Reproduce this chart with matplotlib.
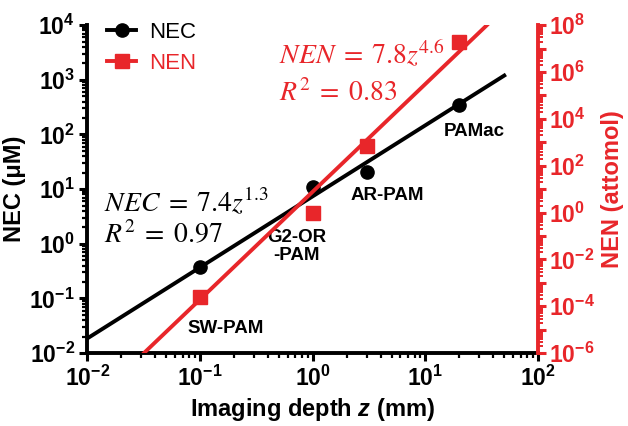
import numpy as np
import matplotlib.pyplot as plt
from matplotlib.ticker import LogLocator, FuncFormatter, NullFormatter

# data
depth = [0.1, 1.0, 3.0, 20.0]
nec = [0.38, 11.0, 21.0, 350.0]
nen = [2.5e-4, 1.0, 700.0, 1.9e7]
names = ['SW-PAM', 'G2-OR\n-PAM', 'AR-PAM', 'PAMac']
label_pos = [(0.17, 0.028), (0.72, 0.9), (4.6, 7.8), (27, 112)]

# power-law fits
nec_a, nec_b = 7.4, 1.3
nen_a, nen_b = 7.8, 4.6

red = '#e8262a'
plt.rcParams['font.family'] = ['Liberation Sans', 'DejaVu Sans']
plt.rcParams['mathtext.fontset'] = 'custom'
plt.rcParams['mathtext.rm'] = 'Liberation Sans:bold'
plt.rcParams['mathtext.bf'] = 'Liberation Sans:bold'
plt.rcParams['mathtext.it'] = 'Liberation Sans:bold:italic'
plt.rcParams['mathtext.default'] = 'rm'

fig = plt.figure(figsize=(6.28, 4.26), dpi=100)
ax = fig.add_axes([0.139, 0.171, 0.718, 0.77])
ax2 = ax.twinx()

z1 = np.logspace(-2, np.log10(50), 50)
ax.plot(z1, nec_a * z1 ** nec_b, color='black', lw=2.8, zorder=3)
ax.plot(depth, nec, 'o', color='black', ms=9.5, zorder=4)

z2 = np.logspace(np.log10((1e-6 / nen_a) ** (1 / nen_b)),
                 np.log10((1e8 / nen_a) ** (1 / nen_b)), 50)
ax2.plot(z2, nen_a * z2 ** nen_b, color=red, lw=2.8, zorder=3)
ax2.plot(depth, nen, 's', color=red, ms=9.5, zorder=4)

for ax_ in (ax, ax2):
    ax_.set_xscale('log')
    ax_.set_yscale('log')
ax.set_xlim(1e-2, 1e2)
ax.set_ylim(1e-2, 1e4)
ax2.set_ylim(1e-6, 1e8)


def pow_fmt(v, pos):
    e = int(round(np.log10(v)))
    return r'$10^{%s}$' % ('-%d' % -e if e < 0 else '%d' % e)


def pow_fmt_even(v, pos):
    e = int(round(np.log10(v)))
    if e % 2:
        return ''
    return pow_fmt(v, pos)


for a in (ax, ax2):
    a.xaxis.set_major_locator(LogLocator(base=10, numticks=20))
    a.xaxis.set_minor_locator(LogLocator(base=10, subs=range(2, 10), numticks=100))
    a.yaxis.set_major_locator(LogLocator(base=10, numticks=20))
    a.yaxis.set_minor_locator(LogLocator(base=10, subs=range(2, 10), numticks=100))
    a.yaxis.set_minor_formatter(NullFormatter())

ax.xaxis.set_major_formatter(FuncFormatter(pow_fmt))
ax.yaxis.set_major_formatter(FuncFormatter(pow_fmt))
ax2.yaxis.set_major_formatter(FuncFormatter(pow_fmt_even))

ax.spines['top'].set_visible(False)
ax.spines['right'].set_visible(False)
ax2.spines['top'].set_visible(False)
ax2.spines['left'].set_visible(False)
ax2.spines['bottom'].set_visible(False)
for s in ('left', 'bottom'):
    ax.spines[s].set_linewidth(2.8)
ax2.spines['right'].set_linewidth(2.8)
ax2.spines['right'].set_color(red)

ax.tick_params(which='major', length=6, width=2.2, direction='out', labelsize=16.5, pad=3)
ax.tick_params(which='minor', length=3.5, width=1.6, direction='out')
ax2.tick_params(axis='y', which='major', length=6, width=2.2, colors=red, labelsize=16.5, pad=2)
ax2.tick_params(axis='y', which='minor', length=3.5, width=1.4, colors=red)

ax.set_xlabel(r'Imaging depth $\mathit{z}$ (mm)', fontsize=17, fontweight='bold', labelpad=4)
ax.set_ylabel('NEC (μM)', fontsize=17, fontweight='bold', labelpad=2)
ax2.set_ylabel('NEN (attomol)', fontsize=17, fontweight='bold', color=red, labelpad=4)

for (x, y), n in zip(label_pos, names):
    ax.text(x, y, n, fontsize=13.5, fontweight='bold', ha='center', va='center',
            linespacing=1.1, zorder=5)

eq = dict(fontsize=20, va='center', math_fontfamily='stix')
ax.text(0.0142, 6.0, r'$\mathit{NEC}\;=\;7.4\mathit{z}^{1.3}$', color='black', **eq)
ax.text(0.0142, 1.4, r'$\mathit{R}^2\;=\;0.97$', color='black', **eq)
ax.text(0.5, 3000, r'$\mathit{NEN}\;=\;7.8\mathit{z}^{4.6}$', color=red, **eq)
ax.text(0.5, 560, r'$\mathit{R}^2\;=\;0.83$', color=red, **eq)

# legend
h1, = ax.plot([], [], '-o', color='black', lw=2.8, ms=9.5, label='NEC')
h2, = ax.plot([], [], '-s', color=red, lw=2.8, ms=9.5, label='NEN')
leg = ax.legend(handles=[h1, h2], loc='upper left', bbox_to_anchor=(0.0, 1.07),
                frameon=False, fontsize=16, handlelength=1.3, handletextpad=0.6,
                labelspacing=0.45)
leg.get_texts()[1].set_color(red)

fig.savefig('out.png', dpi=100)
